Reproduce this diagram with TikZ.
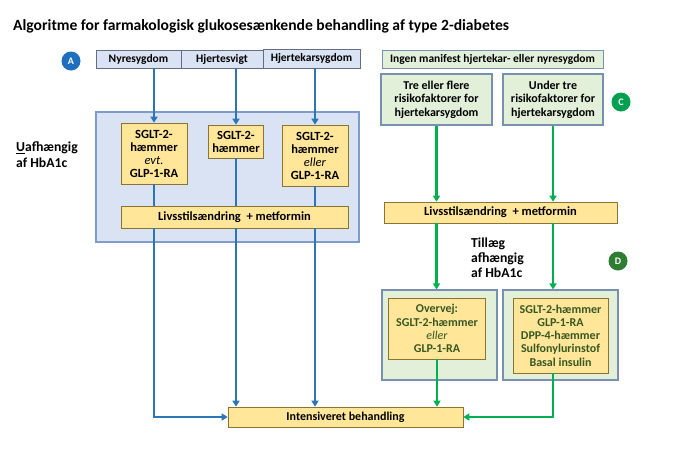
\documentclass[tikz,border=0pt]{standalone}
\usepackage{fontspec}
\setmainfont{Carlito}
\usetikzlibrary{arrows.meta}
\definecolor{ablue}{RGB}{46,117,182}
\definecolor{agreen}{RGB}{0,176,80}
\definecolor{yfill}{RGB}{255,230,153}
\definecolor{ydraw}{RGB}{140,115,50}
\definecolor{bfill}{RGB}{218,227,243}
\definecolor{bdraw}{RGB}{127,155,200}
\definecolor{hdraw}{RGB}{100,110,130}
\definecolor{gfill}{RGB}{226,240,217}
\definecolor{gdraw}{RGB}{120,145,175}
\definecolor{dtext}{RGB}{56,87,35}
\definecolor{cA}{RGB}{31,111,191}
\definecolor{cB}{RGB}{112,48,160}
\definecolor{cC}{RGB}{0,160,80}
\definecolor{cD}{RGB}{46,125,50}
\begin{document}
\begin{tikzpicture}[x=1pt,y=-1pt,
  box/.style={draw, inner sep=0pt, align=center, font=\fontsize{12}{13.5}\selectfont\bfseries},
  hbox/.style={box, fill=bfill, draw=hdraw, line width=0.6pt, font=\fontsize{11.5}{13}\selectfont\bfseries},
  gbox/.style={box, fill=gfill, draw=gdraw, line width=1.1pt},
  ybox/.style={box, fill=yfill, draw=ydraw, line width=0.6pt, font=\fontsize{12.5}{13}\selectfont\bfseries},
  panel/.style={draw=bdraw, fill=bfill, line width=1.3pt, inner sep=0pt},
  gpanel/.style={draw=gdraw, fill=gfill, line width=1.1pt, inner sep=0pt},
  badge/.style={circle, inner sep=0pt, minimum size=19pt, text=white, font=\fontsize{10}{10}\selectfont\bfseries},
  lbl/.style={inner sep=0pt, align=left, font=\fontsize{13.7}{16}\selectfont\bfseries},
  bline/.style={ablue, line width=2.4pt},
  barr/.style={bline, -{Triangle[width=7pt,length=6pt]}},
  gline/.style={agreen, line width=2.4pt},
  garr/.style={gline, -{Triangle[width=7pt,length=6pt]}}]
\useasboundingbox (0,0) rectangle (700,450);
\fill[white] (0,0) rectangle (700,450);

\node[anchor=base west, inner sep=0pt, font=\fontsize{15.6}{18}\selectfont\bfseries] (title) at (13,30)
  {Algoritme for farmakologisk glukosesænkende behandling af type 2-diabetes};

% headers
\node[hbox, minimum width=85pt, minimum height=18pt] (h1) at (138.5,59) {Nyresygdom};
\node[hbox, minimum width=82pt, minimum height=18pt] (h2) at (222,59) {Hjertesvigt};
\node[hbox, minimum width=97pt, minimum height=19pt] (h3) at (311.5,58.5) {Hjertekarsygdom};
\node[gbox, line width=0.6pt, font=\fontsize{11.5}{13}\selectfont\bfseries, minimum width=221pt, minimum height=18pt] (g0) at (492.5,59) {Ingen manifest hjertekar- eller nyresygdom};

\node[gbox, minimum width=111pt, minimum height=51pt] (t1) at (436.5,99.5) {Tre eller flere\\risikofaktorer for\\hjertekarsygdom};
\node[gbox, minimum width=100pt, minimum height=51pt] (u1) at (553,99.5) {Under tre\\risikofaktorer for\\hjertekarsygdom};

% badges
\node[badge, fill=cA] (bA) at (71,61) {A};
\node[badge, fill=cB] (bB) at (106,152) {B};
\node[badge, fill=cC] (bC) at (621,102) {C};
\node[badge, fill=cD] (bD) at (618,261) {D};

% left panel
\node[panel, minimum width=263pt, minimum height=130pt] (pan) at (227.5,177) {};
\node[lbl, anchor=west] (uaf) at (16,155) {\underline{U}afhængig\\af HbA1c};

\node[ybox, minimum width=66pt, minimum height=61pt] (b1) at (154,153.5) {SGLT-2-\\hæmmer\\\textmd{\itshape evt.}\\GLP-1-RA};
\node[ybox, minimum width=55pt, minimum height=33pt] (b2) at (236,141.5) {SGLT-2-\\hæmmer};
\node[ybox, minimum width=66pt, minimum height=61pt] (b3) at (315,155.5) {SGLT-2-\\hæmmer\\\textmd{\itshape eller}\\GLP-1-RA};
\node[ybox, minimum width=227pt, minimum height=22pt] (L1) at (234.5,217) {Livsstilsændring\ \ + metformin};

% right side
\node[ybox, minimum width=233pt, minimum height=21pt] (L2) at (500.5,212.5) {Livsstilsændring\ \ + metformin};
\node[lbl, anchor=west, font=\fontsize{13.7}{15}\selectfont\bfseries] (til) at (471,258) {Tillæg\\afhængig\\af HbA1c};

\node[gpanel, minimum width=115pt, minimum height=90pt] (o1) at (439.5,335) {};
\node[gpanel, minimum width=115pt, minimum height=90pt] (o2) at (560.5,335) {};
\node[ybox, text=dtext, font=\fontsize{12}{13.3}\selectfont\bfseries, minimum width=97pt, minimum height=61pt] (y1) at (437,328.5) {Overvej:\\SGLT-2-hæmmer\\\textmd{\itshape eller}\\GLP-1-RA};
\node[ybox, text=dtext, font=\fontsize{12}{13.3}\selectfont\bfseries, minimum width=95pt, minimum height=75pt] (y2) at (560.5,335.5) {SGLT-2-hæmmer\\GLP-1-RA\\DPP-4-hæmmer\\Sulfonylurinstof\\Basal insulin};

\node[ybox, font=\fontsize{12}{13}\selectfont\bfseries, minimum width=235pt, minimum height=20pt] (int) at (345.5,417) {Intensiveret behandling};

% blue connectors
\draw[barr] (b1 |- h1.south) -- (b1.north);
\draw[barr] (b2 |- h2.south) -- (b2.north);
\draw[barr] (b3 |- h3.south) -- (b3.north);
\draw[bline] (b1.south) -- (b1.south |- L1.north);
\draw[bline] (b2.south) -- (b2.south |- L1.north);
\draw[bline] (b3.south) -- (b3.south |- L1.north);
\draw[barr] (b1.south |- L1.south) -- (b1.south |- int.west) -- (int.west);
\draw[barr] (b2.south |- L1.south) -- (b2.south |- int.north);
\draw[barr] (b3.south |- L1.south) -- (b3.south |- int.north);

% green connectors
\draw[garr] (t1.south) -- (t1.south |- L2.north);
\draw[garr] (u1.south) -- (u1.south |- L2.north);
\draw[garr] (t1.south |- L2.south) -- (t1.south |- o1.north);
\draw[garr] (u1.south |- L2.south) -- (u1.south |- o2.north);
\draw[garr] (y1.south) -- (y1.south |- int.north);
\draw[garr] (u1.south |- y2.south) -- (u1.south |- int.east) -- (int.east);
\end{tikzpicture}
\end{document}
